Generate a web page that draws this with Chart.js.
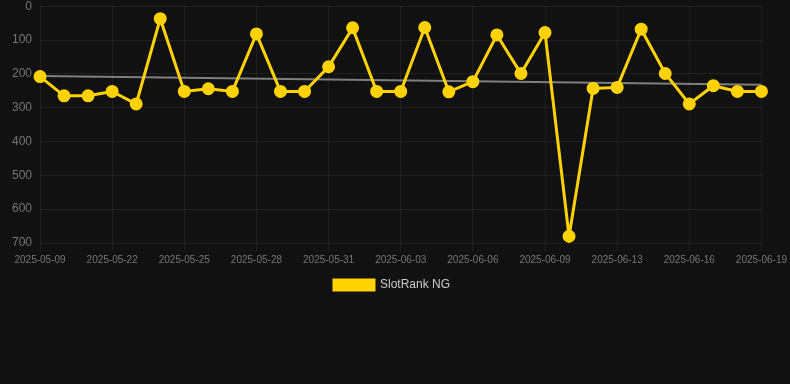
<!DOCTYPE html>
<html>
<head>
<meta charset="utf-8">
<script src="https://cdn.jsdelivr.net/npm/chart.js@4"></script>
<style>
  body { margin: 0; background: #111111; overflow: hidden; }
  #wrap { width: 790px; height: 310px; margin-top: -9px; }
</style>
</head>
<body>
<div id="wrap"><canvas id="rankChart"></canvas></div>
<script>
const dates = [
  "2025-05-09", "2025-05-12", "2025-05-18", "2025-05-22", "2025-05-23", "2025-05-24",
  "2025-05-25", "2025-05-26", "2025-05-27", "2025-05-28", "2025-05-29", "2025-05-30",
  "2025-05-31", "2025-06-01", "2025-06-02", "2025-06-03", "2025-06-04", "2025-06-05",
  "2025-06-06", "2025-06-07", "2025-06-08", "2025-06-09", "2025-06-10", "2025-06-12",
  "2025-06-13", "2025-06-14", "2025-06-15", "2025-06-16", "2025-06-17", "2025-06-18",
  "2025-06-19"
];
const ranks = [
  208, 265, 265, 252, 289, 37, 252, 244, 252, 82, 252, 252,
  179, 64, 252, 252, 63, 253, 223, 85, 199, 78, 680, 243,
  240, 68, 199, 289, 235, 252, 252
];
// trend line: only the two ends
const trend = dates.map(() => null);
trend[0] = 206;
trend[trend.length - 1] = 232;

const yTicks = [0, 100, 200, 300, 400, 500, 600, 700];

const gridColor = "rgba(255,255,255,0.06)";

document.addEventListener("DOMContentLoaded", () => {
  new Chart(document.getElementById("rankChart"), {
    type: "line",
    data: {
      labels: dates,
      datasets: [
        {
          label: "SlotRank NG",
          data: ranks,
          borderColor: "#FFD200",
          backgroundColor: "#FFD200",
          borderWidth: 3,
          pointRadius: 5,
          pointBackgroundColor: "#FFD200",
          pointBorderColor: "#FFD200",
          tension: 0
        },
        {
          label: "trend",
          data: trend,
          borderColor: "rgba(140,140,140,0.9)",
          borderWidth: 2,
          pointRadius: 0,
          spanGaps: true
        }
      ]
    },
    options: {
      responsive: true,
      maintainAspectRatio: false,
      animation: false,
      layout: { padding: { left: 4, right: 10 } },
      plugins: {
        legend: {
          position: "bottom",
          labels: {
            color: "#cccccc",
            font: { size: 12, family: "Arial, Liberation Sans, sans-serif" },
            boxWidth: 40,
            boxHeight: 10,
            filter: (item) => item.text !== "trend"
          }
        },
        tooltip: { enabled: false }
      },
      scales: {
        x: {
          grid: {
            color: (ctx) => (ctx.index % 3 === 0 ? gridColor : "rgba(0,0,0,0)")
          },
          border: { display: false },
          ticks: {
            color: "#777777",
            font: { size: 10, family: "Arial, Liberation Sans, sans-serif" },
            autoSkip: false,
            maxRotation: 0,
            callback: function (val, i) { return i % 3 === 0 ? dates[i] : ""; }
          }
        },
        y: {
          reverse: true,
          min: 0,
          max: 700,
          afterBuildTicks: (axis) => { axis.ticks = yTicks.map((v) => ({ value: v })); },
          grid: { color: gridColor, drawTicks: false },
          border: { display: false },
          ticks: {
            color: "#777777",
            padding: 8,
            font: { size: 12, family: "Arial, Liberation Sans, sans-serif" }
          }
        }
      }
    }
  });
});
</script>
</body>
</html>
